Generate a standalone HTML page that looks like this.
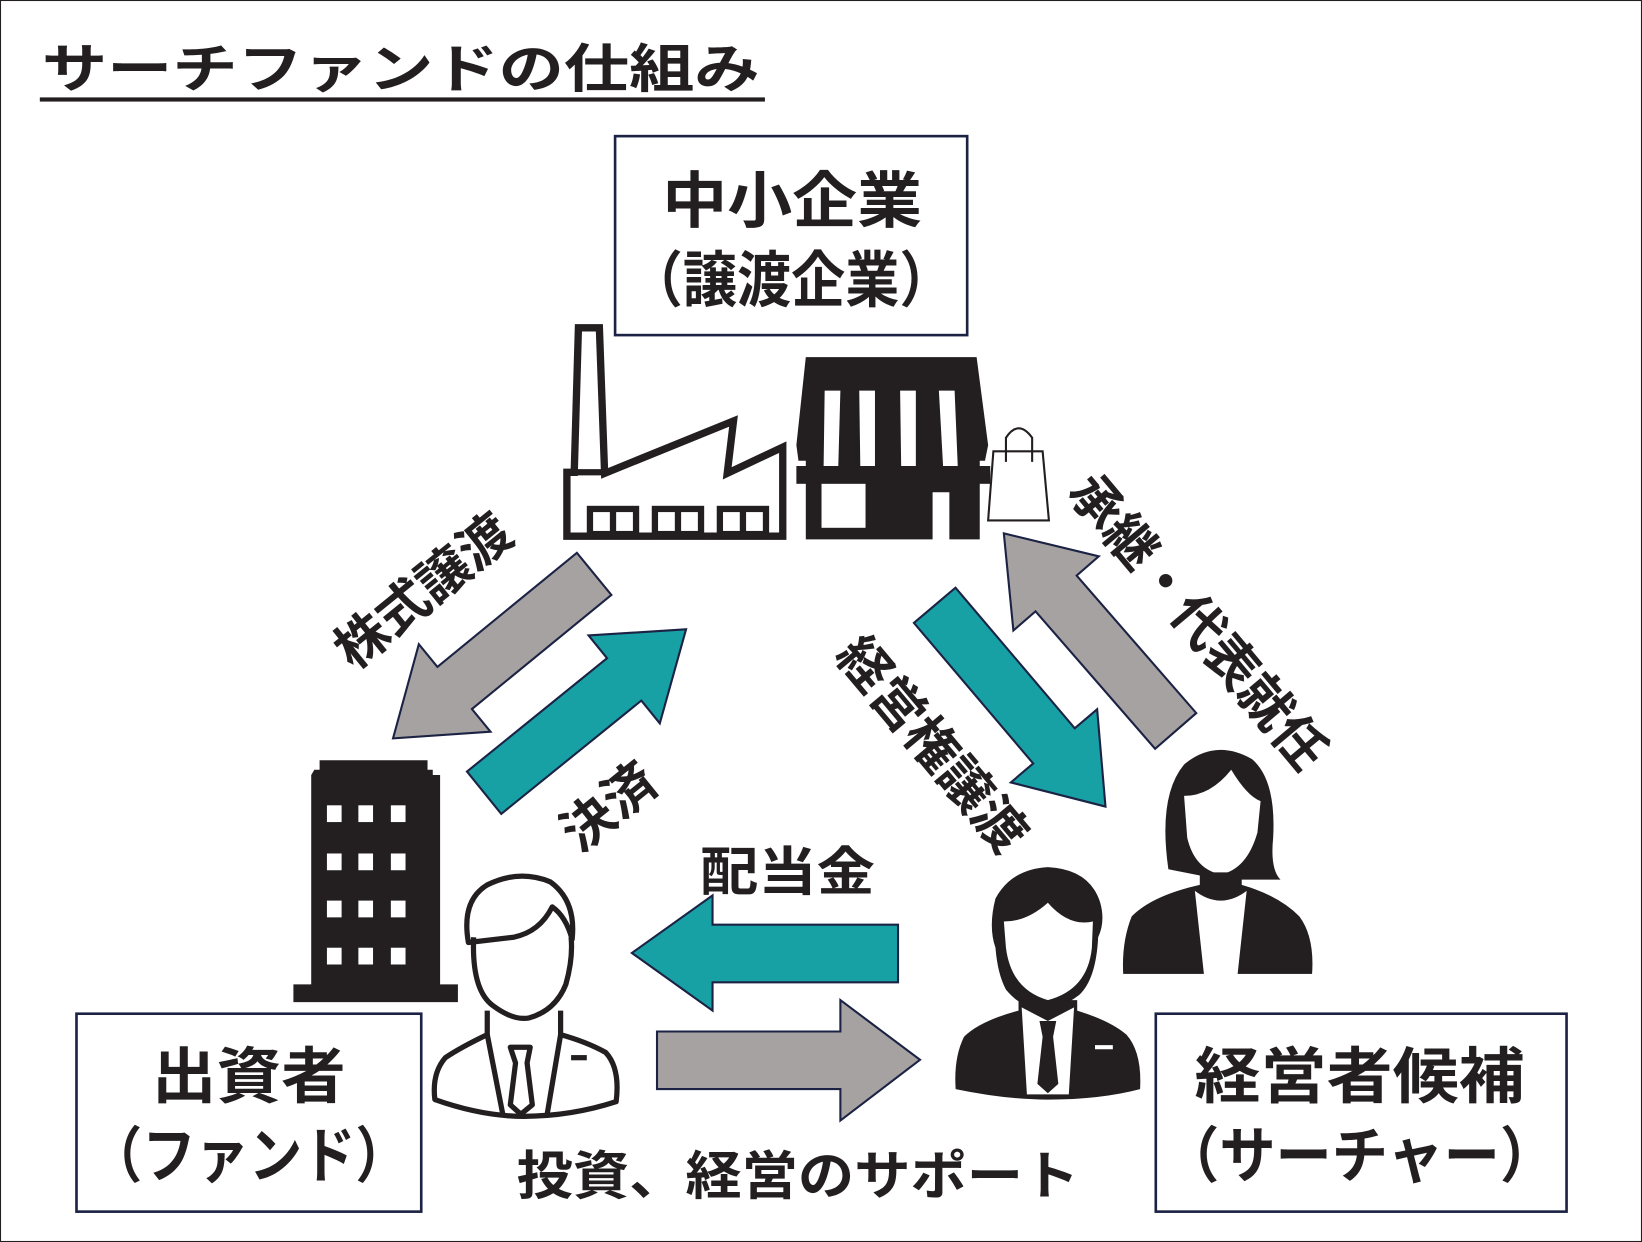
<!DOCTYPE html>
<html><head><meta charset="utf-8"><style>
html,body{margin:0;padding:0;background:#fff}
svg{display:block}
text{font-family:"Liberation Sans","Noto Sans CJK JP",sans-serif;font-weight:bold;fill:#231f20}
</style></head><body>
<svg width="1642" height="1242" viewBox="0 0 1567 1186" preserveAspectRatio="none" xmlns="http://www.w3.org/2000/svg">
<rect x="0.5" y="0.5" width="1566" height="1185" fill="#fff" stroke="#231f20" stroke-width="1"/>
<text x="40" y="83" font-size="50" textLength="685" lengthAdjust="spacingAndGlyphs">サーチファンドの仕組み</text>
<rect x="38" y="93" width="692" height="4" fill="#231f20"/>

<!-- top box -->
<rect x="587" y="130" width="336" height="190" fill="#fff" stroke="#1b2244" stroke-width="2.5"/>
<text x="632" y="212" font-size="58" textLength="248" lengthAdjust="spacingAndGlyphs">中小企業</text>
<text x="600" y="288" font-size="58" textLength="310" lengthAdjust="spacingAndGlyphs">（譲渡企業）</text>

<!-- factory -->
<path d="M541 512 L541 451 L548 451 L552 313 L572 313 L577 452 L700 402 L694 452 L747 427 L747 512 Z" fill="#fff" stroke="#231f20" stroke-width="7"/>
<line x1="541" y1="451" x2="577" y2="451" stroke="#231f20" stroke-width="6"/>
<g fill="none" stroke="#231f20" stroke-width="6">
<rect x="563" y="486" width="44" height="24"/><line x1="585" y1="486" x2="585" y2="510"/>
<rect x="625" y="486" width="44" height="24"/><line x1="647" y1="486" x2="647" y2="510"/>
<rect x="687" y="486" width="44" height="24"/><line x1="709" y1="486" x2="709" y2="510"/>
</g>

<!-- store -->
<path d="M769 341 L932 341 L943 425 L940 440 L935 440 L935 515 L906 515 L906 470 L890 470 L890 515 L769 515 L769 440 L762 440 L760 425 Z" fill="#231f20"/>
<rect x="784" y="461" width="42" height="43" fill="#fff"/>
<g fill="#fff">
<path d="M787 373 L802 373 L800 445 Q793 452 786 445 Z"/>
<path d="M820 373 L835 373 L835 445 Q828 452 821 445 Z"/>
<path d="M859 373 L874 373 L874 445 Q867 452 860 445 Z"/>
<path d="M896 373 L911 373 L914 445 Q907 452 900 445 Z"/>
</g>
<rect x="760" y="445" width="185" height="17" fill="#231f20"/>
<!-- bag -->
<path d="M948 431 L995 431 L1001 497 L943 497 Z" fill="#fff" stroke="#231f20" stroke-width="2"/>
<path d="M960 441 L960 418 Q972 400 985 418 L985 441" fill="none" stroke="#231f20" stroke-width="2"/>

<!-- arrows -->
<g stroke="#1b2244" stroke-width="2">
<polygon points="0,-26 172,-26 172,-54 248,0 172,54 172,26 0,26" fill="#a6a2a1" transform="translate(567,548) rotate(140.7)"/>
<polygon points="0,-26 172,-26 172,-54 248,0 172,54 172,26 0,26" fill="#17a1a5" transform="translate(462,757) rotate(-39)"/>
<polygon points="0,-26 176,-26 176,-54 252,0 176,54 176,26 0,26" fill="#17a1a5" transform="translate(892,578) rotate(49.7)"/>
<polygon points="0,-26 174,-26 174,-54 250,0 174,54 174,26 0,26" fill="#a6a2a1" transform="translate(1122,698) rotate(-131)"/>
<polygon points="857,883 680,883 680,855 603,910 680,965 680,938 857,938" fill="#17a1a5"/>
<polygon points="627,985 802,985 802,955 878,1012 802,1070 802,1040 627,1040" fill="#a6a2a1"/>
</g>

<!-- rotated labels -->
<text font-size="50" text-anchor="middle" transform="translate(415,578) rotate(-39)">株式譲渡</text>
<text font-size="50" text-anchor="middle" transform="translate(592,784) rotate(-39)">決済</text>
<text font-size="50" text-anchor="middle" transform="translate(876,722) rotate(50)">経営権譲渡</text>
<text font-size="50" text-anchor="middle" transform="translate(1130,605) rotate(50)">承継・代表就任</text>
<text x="668" y="850" font-size="50" textLength="167" lengthAdjust="spacingAndGlyphs">配当金</text>
<text x="493" y="1140" font-size="50" textLength="537" lengthAdjust="spacingAndGlyphs">投資、経営のサポート</text>

<!-- building -->
<path d="M300 735 L305 735 L305 726 L408 726 L408 735 L413 735 L413 740 L420 740 L420 940 L437 940 L437 957 L280 957 L280 940 L297 940 L297 740 Z" fill="#231f20"/>
<g fill="#fff">
<rect x="312" y="769" width="14" height="16"/><rect x="342" y="769" width="14" height="16"/><rect x="373" y="769" width="14" height="16"/>
<rect x="312" y="815" width="14" height="16"/><rect x="342" y="815" width="14" height="16"/><rect x="373" y="815" width="14" height="16"/>
<rect x="312" y="860" width="14" height="16"/><rect x="342" y="860" width="14" height="16"/><rect x="373" y="860" width="14" height="16"/>
<rect x="312" y="905" width="14" height="16"/><rect x="342" y="905" width="14" height="16"/><rect x="373" y="905" width="14" height="16"/>
</g>

<!-- left outlined person -->
<g fill="none" stroke="#231f20" stroke-width="5" stroke-linejoin="round">
<path d="M452 895 Q450 945 470 960 Q490 975 505 972 Q530 965 540 940 Q547 915 545 895"/>
<path d="M447 900 Q440 860 465 845 Q495 830 525 842 Q550 860 546 897 Q540 875 527 866 Q515 890 490 895 Z"/>
<path d="M465 965 L465 988 Q440 1000 425 1010 Q412 1025 415 1050 Q460 1066 500 1066 Q545 1066 588 1052 Q592 1020 578 1005 Q560 995 535 988 L535 965"/>
<path d="M465 988 L480 1065 M535 988 L522 1065"/>
<path d="M487 1000 L506 1000 L503 1015 L508 1055 L497 1064 L487 1055 L492 1015 Z"/>
<line x1="545" y1="1010" x2="560" y2="1010"/>
</g>

<!-- right black man -->
<path d="M950 858 Q965 830 1000 828 Q1040 830 1050 862 Q1055 880 1048 895 Q1046 935 1030 950 Q1010 965 995 965 Q975 963 960 945 Q952 930 950 905 Q943 885 950 858 Z" fill="#231f20"/>
<path d="M958 880 Q980 880 1000 862 Q1020 885 1043 880 L1042 905 Q1038 945 1000 955 Q965 945 960 905 Z" fill="#fff"/>
<path d="M972 955 L972 965 Q935 975 920 990 Q910 1010 912 1040 Q960 1050 1000 1050 Q1050 1050 1088 1040 Q1090 1005 1075 988 Q1060 975 1028 965 L1028 955 Z" fill="#231f20"/>
<path d="M975 962 L1000 975 L1025 962 L1020 1045 L980 1045 Z" fill="#fff"/>
<path d="M992 975 L1008 975 L1005 990 L1010 1035 L1000 1044 L990 1035 L995 990 Z" fill="#231f20"/>
<line x1="1045" y1="1000" x2="1062" y2="1000" stroke="#fff" stroke-width="4"/>

<!-- woman -->
<path d="M1115 830 Q1105 760 1130 730 Q1160 705 1195 725 Q1218 745 1215 800 Q1212 830 1222 840 L1165 840 Z" fill="#231f20"/>
<path d="M1130 760 Q1155 760 1175 735 Q1190 760 1203 765 L1200 795 Q1190 830 1165 835 Q1140 830 1133 800 Z" fill="#fff"/>
<path d="M1145 833 L1145 845 Q1100 855 1080 875 Q1070 900 1072 932 L1252 932 Q1255 895 1240 875 Q1220 855 1185 845 L1185 833 Z" fill="#231f20"/>
<path d="M1140 848 Q1165 870 1190 848 L1180 940 L1150 940 Z" fill="#fff"/>
<rect x="1070" y="930" width="185" height="14" fill="#fff"/>
<path d="M1140 848 Q1165 868 1190 848" fill="none" stroke="#231f20" stroke-width="4"/>

<!-- bottom boxes -->
<rect x="73" y="968" width="329" height="189" fill="#fff" stroke="#1b2244" stroke-width="2.5"/>
<text x="145" y="1048" font-size="58" textLength="185" lengthAdjust="spacingAndGlyphs">出資者</text>
<text x="85" y="1124" font-size="58" textLength="305" lengthAdjust="spacingAndGlyphs">（ファンド）</text>
<rect x="1103" y="968" width="392" height="189" fill="#fff" stroke="#1b2244" stroke-width="2.5"/>
<text x="1140" y="1048" font-size="58" textLength="315" lengthAdjust="spacingAndGlyphs">経営者候補</text>
<text x="1110" y="1124" font-size="58" textLength="375" lengthAdjust="spacingAndGlyphs">（サーチャー）</text>
</svg>
</body></html>
